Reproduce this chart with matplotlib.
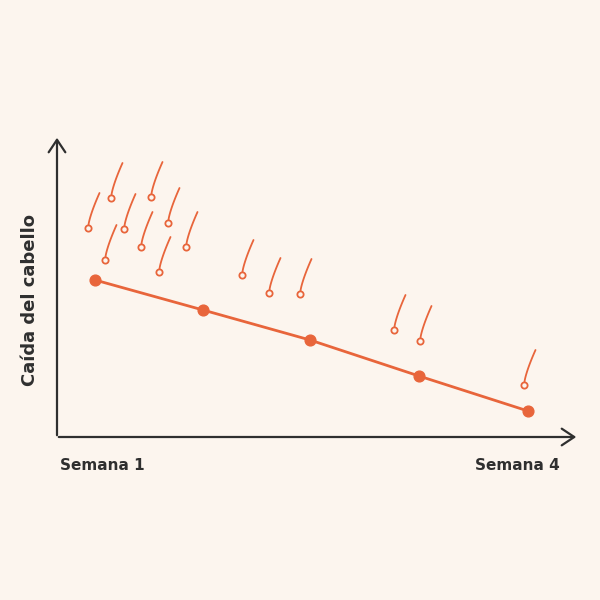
import matplotlib.pyplot as plt
from matplotlib.patches import FancyArrowPatch
import numpy as np

bg = "#fcf5ee"
orange = "#e8653b"
dark = "#2f2f2f"

# line points (pixel space of a 600x600 canvas)
line_x = [95, 203, 310, 419, 528]
line_y = [280, 310, 340, 376, 411]

# hair bulbs
hairs = [(88, 228), (111, 198), (151, 197), (105, 260), (124, 229), (141, 247),
         (168, 223), (159, 272), (186, 247), (242, 275), (269, 293), (300, 294),
         (394, 330), (420, 341), (524, 385)]

fig = plt.figure(figsize=(6, 6), dpi=100, facecolor=bg)
ax = fig.add_axes([0, 0, 1, 1])
ax.set_facecolor(bg)
ax.set_xlim(0, 600)
ax.set_ylim(600, 0)
ax.axis("off")

# axes arrows
ax.add_patch(FancyArrowPatch((57, 438), (57, 135), arrowstyle="->,head_length=6,head_width=4",
                             color=dark, lw=1.6, mutation_scale=1.5))
ax.add_patch(FancyArrowPatch((56, 437), (579, 437), arrowstyle="->,head_length=6,head_width=4",
                             color=dark, lw=1.6, mutation_scale=1.5))

ax.plot(line_x, line_y, color=orange, lw=2, zorder=3)
ax.scatter(line_x, line_y, s=60, color=orange, zorder=4)

# hairs: curved strand + hollow teardrop bulb
t = np.linspace(0, 1, 30)
for hx, hy in hairs:
    sx = hx + 0.5 + 11 * t ** 1.3
    sy = hy - 3 - 32 * t
    ax.plot(sx, sy, color=orange, lw=1.3, solid_capstyle="round")
    ax.plot(hx, hy, marker="o", ms=4.5, mfc=bg, mec=orange, mew=1.3, zorder=3)

ax.text(60, 466, "Semana 1", fontsize=11, fontweight="bold", color=dark, ha="left", va="center")
ax.text(560, 466, "Semana 4", fontsize=11, fontweight="bold", color=dark, ha="right", va="center")
ax.text(30, 300, "Caída del cabello", fontsize=13, fontweight="bold", color=dark,
        rotation=90, ha="center", va="center")

fig.savefig("out.png", dpi=100, facecolor=bg)
